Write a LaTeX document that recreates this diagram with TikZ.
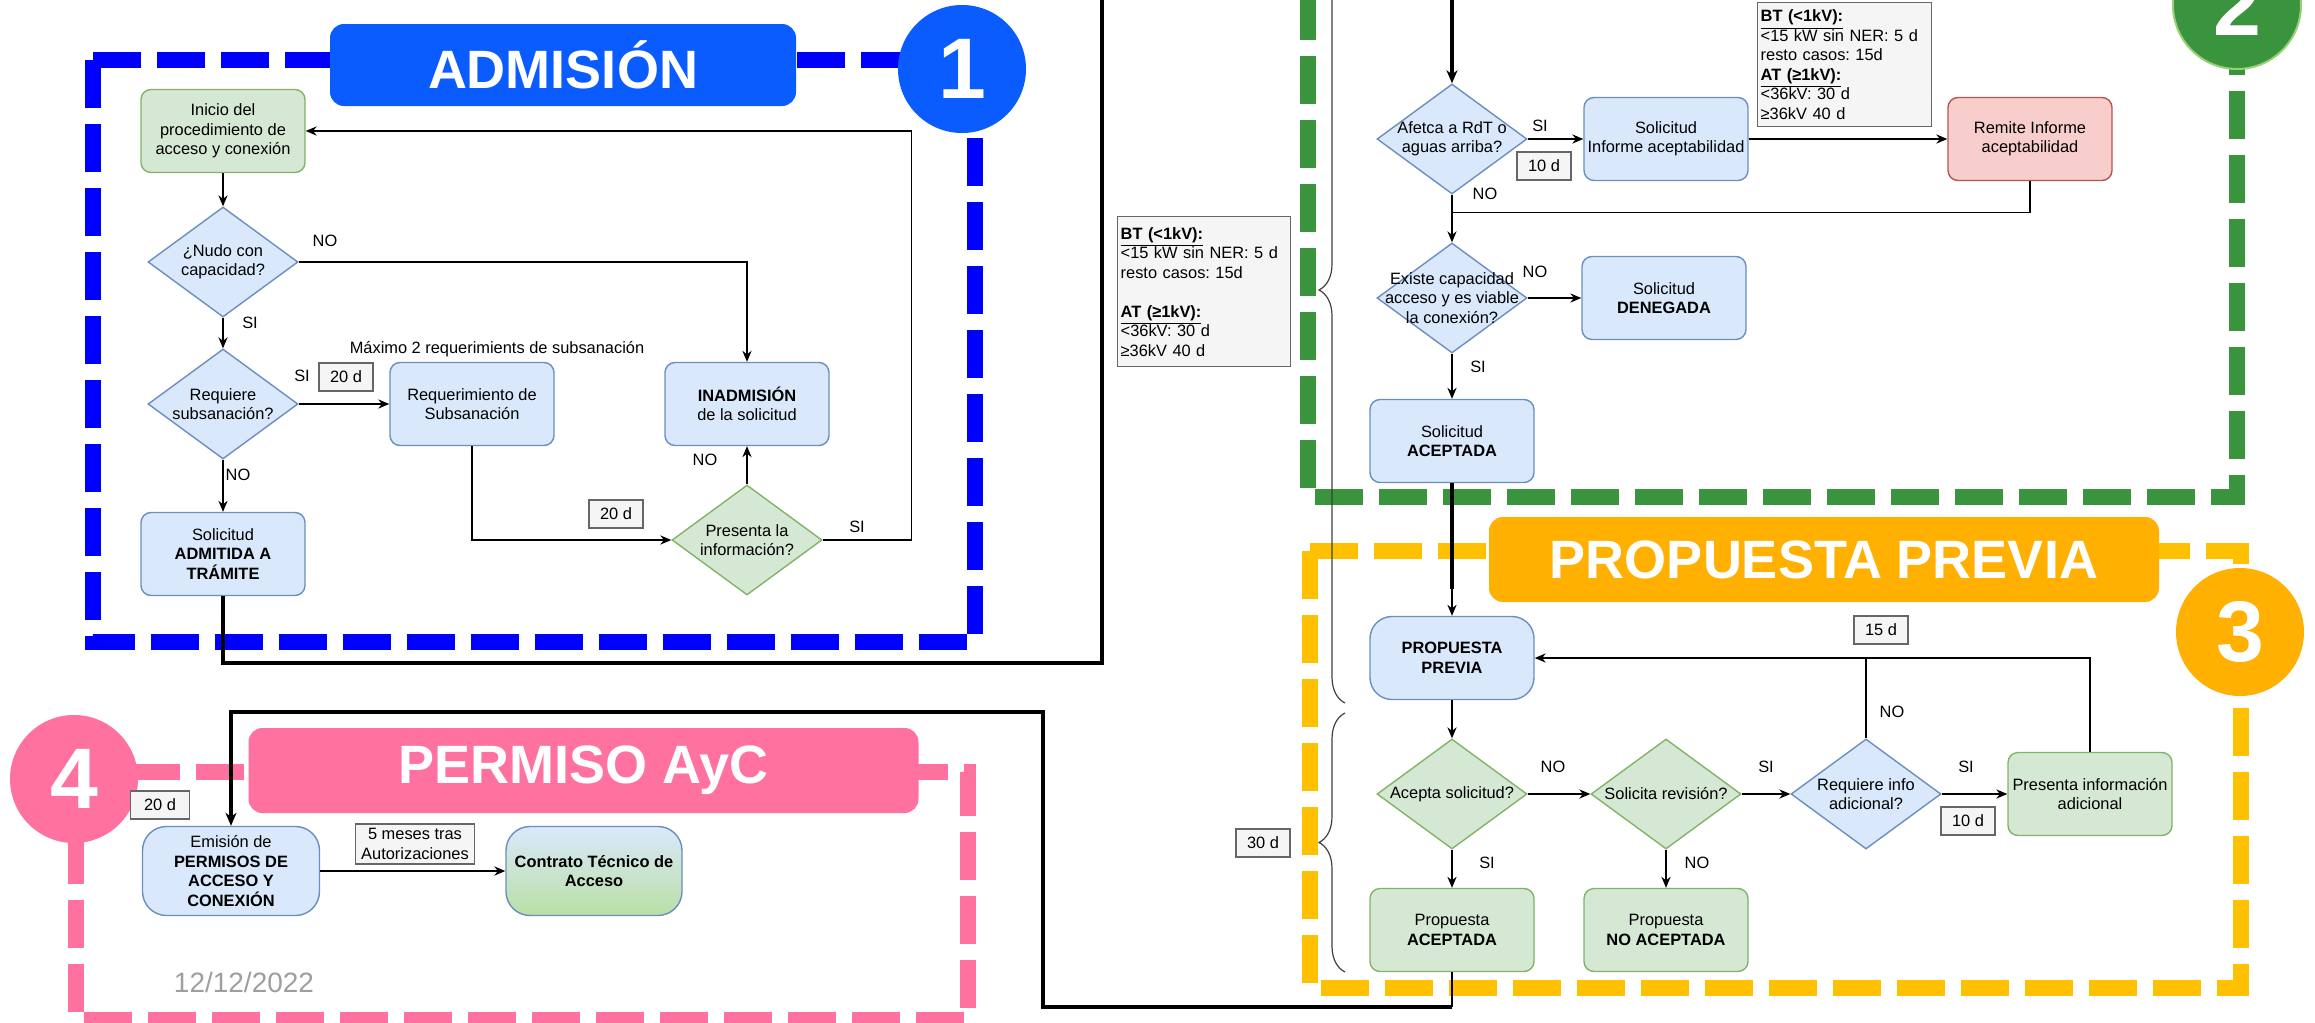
\documentclass[tikz,border=0pt]{standalone}
\usepackage{fontspec}
\setmainfont{Liberation Sans}
\usetikzlibrary{shapes.geometric,arrows.meta,decorations.pathreplacing}

\definecolor{bluefill}{HTML}{DAE8FC}
\definecolor{blueline}{HTML}{6C8EBF}
\definecolor{greenfill}{HTML}{D5E8D4}
\definecolor{greenline}{HTML}{82B366}
\definecolor{redfill}{HTML}{F8CECC}
\definecolor{redline}{HTML}{B85450}
\definecolor{notefill}{HTML}{F5F5F5}
\definecolor{noteline}{HTML}{666666}
\definecolor{admblue}{HTML}{0A5CFF}
\definecolor{frameblue}{HTML}{0000FF}
\definecolor{stepgreen}{HTML}{3A943E}
\definecolor{ringgreen}{HTML}{97D077}
\definecolor{steporange}{HTML}{FFB000}
\definecolor{frameorange}{HTML}{FFC000}
\definecolor{steppink}{HTML}{FF719E}
\definecolor{contgreen}{HTML}{B9E0A5}
\definecolor{dategray}{HTML}{9E9E9E}

\begin{document}
\frenchspacing
\begin{tikzpicture}[x=0.5pt,y=-0.5pt,
  every node/.style={font=\fontsize{8.2}{9.75}\selectfont},
  stageframe/.style={line width=8pt,dash pattern=on 24pt off 8pt},
  banner/.style={rectangle,rounded corners=7pt,minimum width=335pt,minimum height=42.5pt,text=white,font=\fontsize{27}{32}\selectfont\bfseries},
  badge/.style={circle,minimum size=64pt,inner sep=0pt,text=white,font=\fontsize{43}{50}\selectfont\bfseries},
  proc/.style={rectangle,rounded corners=5pt,draw=blueline,fill=bluefill,line width=0.7pt,minimum width=82pt,minimum height=41.5pt,align=center,inner sep=1pt},
  okproc/.style={proc,draw=greenline,fill=greenfill},
  dia/.style={diamond,draw=blueline,fill=bluefill,line width=0.7pt,minimum width=75pt,minimum height=55pt,inner sep=0pt},
  okdia/.style={dia,draw=greenline,fill=greenfill},
  daybox/.style={rectangle,draw=noteline,fill=notefill,line width=0.7pt,minimum width=27pt,minimum height=14pt,inner sep=0.5pt,align=center},
  lbl/.style={inner sep=0pt},
  arr/.style={line width=0.75pt,-{Stealth[length=5.5pt,width=4.6pt,inset=1.8pt]}},
  bigline/.style={line width=1.8pt},
  bigarr/.style={bigline,-{Stealth[length=6.5pt,width=5.5pt,inset=2pt]}},
  curly/.style={draw=black!75,line width=0.6pt,decorate,decoration={brace,amplitude=13pt}}
]
\useasboundingbox (0,0) rectangle (2315,1023);
\clip (0,0) rectangle (2315,1023);

\draw[stageframe,draw=frameblue] (93,60) rectangle (975,642);
\draw[stageframe,draw=stepgreen] (1308,-200) rectangle (2237,497);
\draw[stageframe,draw=frameorange] (1310,551) rectangle (2241,988);
\draw[stageframe,draw=steppink] (76,772) rectangle (968,1020);

\node[banner,fill=admblue,minimum width=233pt,minimum height=41pt] (admban) at (563,65) {ADMISIÓN};
\node[banner,fill=steporange] (propban) at (1824,559.5) {PROPUESTA PREVIA};
\node[banner,fill=steppink] (permban) at (583.5,770.5) {PERMISO AyC};
\node[badge,fill=admblue] (b1) at (962,69) {1};
\node[badge,fill=stepgreen,draw=ringgreen,line width=1pt] (b2) at (2237,5) {2};
\node[badge,fill=steporange] (b3) at (2240,632) {3};
\node[badge,fill=steppink] (b4) at (74,779) {4};

\node[okproc] (inicio) at (223,131) {Inicio del\\procedimiento de\\acceso y conexión};
\node[dia,label={[align=center]center:{¿Nudo con\\capacidad?}}] (nudo) at (223,262) {};
\node[dia,label={[align=center]center:{Requiere\\subsanación?}}] (reqsub) at (223,404) {};
\node[proc] (admitida) at (223,554) {Solicitud\\\textbf{ADMITIDA A}\\\textbf{TRÁMITE}};
\node[proc] (requer) at (472,404) {Requerimiento de\\Subsanación};
\node[proc] (inadm) at (747,404) {\textbf{INADMISIÓN}\\de la solicitud};
\node[okdia,label={[align=center]center:{Presenta la\\información?}}] (presenta) at (747,540) {};
\node[lbl] (maxreq) at (497,349) {Máximo 2 requerimients de subsanación};
\node[daybox] (d20a) at (346,377) {20 d};
\node[daybox] (d20b) at (616,514) {20 d};
\node[lbl] (l1) at (325,241) {NO};
\node[lbl] (l2) at (250,323) {SI};
\node[lbl] (l3) at (302,376) {SI};
\node[lbl] (l4) at (238,475) {NO};
\node[lbl] (l5) at (705,460) {NO};
\node[lbl] (l6) at (857,527) {SI};

\draw[arr] (inicio) -- (nudo);
\draw[arr] (nudo) -- (reqsub);
\draw[arr] (nudo.east) -| (inadm.north);
\draw[arr] (reqsub) -- (requer);
\draw[arr] (reqsub) -- (admitida);
\draw[arr] (requer.south) |- (presenta.west);
\draw[arr] (presenta) -- (inadm);
\draw[arr] (presenta.east) -- ++(89,0) |- (inicio.east);

\node[dia,label={[align=center]center:{Afetca a RdT o\\aguas arriba?}}] (afecta) at (1452,139) {};
\node[proc] (solinf) at (1666,139) {Solicitud\\Informe aceptabilidad};
\node[proc,draw=redline,fill=redfill] (remite) at (2030,139) {Remite Informe\\aceptabilidad};
\node[dia,label={[align=center]center:{Existe capacidad\\acceso y es viable\\la conexión?}}] (existe) at (1452,298) {};
\node[proc] (denegada) at (1664,298) {Solicitud\\\textbf{DENEGADA}};
\node[proc] (aceptada) at (1452,441) {Solicitud\\\textbf{ACEPTADA}};
\node[daybox] (d10a) at (1544,166) {10 d};
\node[daybox,anchor=north west,minimum width=87pt,minimum height=62pt,text width=84pt,align=left,inner xsep=1.5pt] (ntop) at (1757,2)
  {\underline{\textbf{BT (<1kV):}}\\<15 kW sin NER: 5 d\\resto casos: 15d\\\underline{\textbf{AT (≥1kV):}}\\<36kV: 30 d\\≥36kV 40 d};
\node[daybox,anchor=north west,minimum width=86.5pt,minimum height=75pt,text width=83.5pt,align=left,inner xsep=1.5pt] (nleft) at (1117,216)
  {\underline{\textbf{BT (<1kV):}}\\<15 kW sin NER: 5 d\\resto casos: 15d\\[9.75pt]\underline{\textbf{AT (≥1kV):}}\\<36kV: 30 d\\≥36kV 40 d};
\node[lbl] (l7) at (1540,126) {SI};
\node[lbl] (l8) at (1485,194) {NO};
\node[lbl] (l9) at (1535,272) {NO};
\node[lbl] (l10) at (1478,367) {SI};

\coordinate (topA) at (1102,-20);
\coordinate (bendA) at (1102,663);
\coordinate (topB) at (1452,-20);
\coordinate (cutP) at (1452,589);
\draw[bigline] (admitida.south) |- (bendA) -- (topA);
\draw[bigarr] (topB) -- (afecta.north);
\draw[arr] (afecta) -- (solinf);
\draw[arr] (solinf) -- (remite);
\draw[arr] (afecta) -- (existe);
\draw[line width=0.75pt] (remite.south) |- ([yshift=-9pt]afecta.south);
\draw[arr] (existe) -- (denegada);
\draw[arr] (existe) -- (aceptada);
\draw[curly] (1345,703) -- (1345,-123);

\node[proc,rounded corners=11pt] (propprev) at (1452,658) {\textbf{PROPUESTA}\\\textbf{PREVIA}};
\node[okdia,label={[align=center]center:{Acepta solicitud?}}] (acepta) at (1452,794) {};
\node[okdia,label={[align=center]center:{Solicita revisión?}}] (solrev) at (1666,794) {};
\node[dia,label={[align=center]center:{Requiere info\\adicional?}}] (reqinfo) at (1866,794) {};
\node[okproc] (presinfo) at (2090,794) {Presenta información\\adicional};
\node[okproc] (propA) at (1452,930) {Propuesta\\\textbf{ACEPTADA}};
\node[okproc] (propNA) at (1666,930) {Propuesta\\\textbf{NO ACEPTADA}};
\node[daybox] (d15) at (1881,630) {15 d};
\node[daybox] (d10b) at (1968,821) {10 d};
\node[daybox] (d30) at (1263,843) {30 d};
\node[lbl] (l11) at (1892,712) {NO};
\node[lbl] (l12) at (1553,767) {NO};
\node[lbl] (l13) at (1766,767) {SI};
\node[lbl] (l14) at (1966,767) {SI};
\node[lbl] (l15) at (1487,863) {SI};
\node[lbl] (l16) at (1697,863) {NO};

\draw[arr] (aceptada) -- (propprev);
\draw[bigline] (aceptada.south) -- (cutP);
\draw[arr] (propprev) -- (acepta);
\draw[arr] (acepta) -- (solrev);
\draw[arr] (solrev) -- (reqinfo);
\draw[arr] (reqinfo) -- (presinfo);
\draw[arr] (acepta) -- (propA);
\draw[arr] (solrev) -- (propNA);
\draw[arr] (presinfo.north) |- (propprev.east);
\draw[line width=0.75pt] (reqinfo.north) -- (reqinfo.north |- propprev.east);
\draw[curly] (1345,972) -- (1345,713);

\node[proc,rounded corners=12pt,minimum width=88.5pt,minimum height=44.5pt] (emision) at (231,871) {Emisión de\\\textbf{PERMISOS DE}\\\textbf{ACCESO Y}\\\textbf{CONEXIÓN}};
\node[proc,rounded corners=12pt,minimum width=88pt,minimum height=44.5pt,top color=bluefill,bottom color=contgreen] (contrato) at (594,871) {\textbf{Contrato Técnico de}\\\textbf{Acceso}};
\node[daybox,minimum width=29.5pt] (d20c) at (160,805) {20 d};
\node[daybox,minimum width=59.5pt,minimum height=20pt,inner sep=0pt] (meses) at (415,844) {5 meses tras\\Autorizaciones};
\node[text=dategray,font=\fontsize{14}{16}\selectfont] (fecha) at (244,982) {12/12/2022};

\coordinate (bendC) at (1452,1007);
\coordinate (bendD) at (1043,712);
\draw[line width=0.75pt] (propA.south) -- (bendC);
\draw[bigarr] (bendC) -| (bendD) -| (emision.north);
\draw[arr] (emision) -- (contrato);
\end{tikzpicture}
\end{document}
